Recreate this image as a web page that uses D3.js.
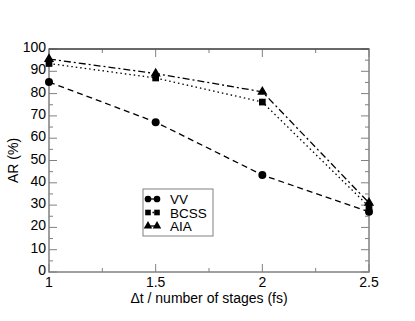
<!DOCTYPE html>
<html>
<head>
<meta charset="utf-8">
<script src="https://cdn.jsdelivr.net/npm/d3@7"></script>
<style>
  body { margin: 0; background: #fff; }
  text { font-family: "Liberation Sans", Arial, sans-serif; }
</style>
</head>
<body>
<div id="chart"></div>
<script>
// data
const stepSizes = [1, 1.5, 2, 2.5]
const vv = [85.2, 67.2, 43.5, 27]
const bcss = [93.5, 87, 76.2, 29.3]
const aia = [95.5, 89, 80.8, 31]
const xTicks = [1, 1.5, 2, 2.5]
const yTicks = [0, 10, 20, 30, 40, 50, 60, 70, 80, 90, 100]

const margin = {top: 49, right: 46, bottom: 49, left: 49}
const W = 415, H = 321
const width = W - margin.left - margin.right
const height = H - margin.top - margin.bottom

const svg = d3.select("#chart")
  .append("svg")
  .attr("width", W)
  .attr("height", H)
  .append("g")
  .attr("transform", "translate(" + margin.left + "," + margin.top + ")")

const x = d3.scaleLinear().domain([1, 2.5]).range([0, width])
const y = d3.scaleLinear().domain([0, 100]).range([height, 0])

const axisColor = "#808080"

// minor + major ticks, pointing inward, on all four sides
const minorX = d3.range(1.25, 2.5, 0.5)
const minorY = d3.range(5, 100, 10)
const ticks = svg.append("g").attr("stroke", axisColor).attr("stroke-width", 1)
xTicks.forEach(v => {
  ticks.append("line").attr("x1", x(v)).attr("x2", x(v)).attr("y1", height).attr("y2", height - 8)
  ticks.append("line").attr("x1", x(v)).attr("x2", x(v)).attr("y1", 0).attr("y2", 8)
})
minorX.forEach(v => {
  ticks.append("line").attr("x1", x(v)).attr("x2", x(v)).attr("y1", height).attr("y2", height - 4)
  ticks.append("line").attr("x1", x(v)).attr("x2", x(v)).attr("y1", 0).attr("y2", 4)
})
yTicks.forEach(v => {
  ticks.append("line").attr("x1", 0).attr("x2", 8).attr("y1", y(v)).attr("y2", y(v))
  ticks.append("line").attr("x1", width).attr("x2", width - 8).attr("y1", y(v)).attr("y2", y(v))
})
minorY.forEach(v => {
  ticks.append("line").attr("x1", 0).attr("x2", 4).attr("y1", y(v)).attr("y2", y(v))
  ticks.append("line").attr("x1", width).attr("x2", width - 4).attr("y1", y(v)).attr("y2", y(v))
})

// frame
svg.append("rect")
  .attr("width", width).attr("height", height)
  .attr("fill", "none").attr("stroke", axisColor).attr("stroke-width", 1.5)
svg.append("line").attr("x1", 0).attr("x2", width).attr("y1", 0).attr("y2", 0)
  .attr("stroke", "#333").attr("stroke-width", 1)

// tick labels
svg.selectAll(".xlab").data(xTicks).enter().append("text")
  .attr("x", d => x(d)).attr("y", height + 15)
  .attr("text-anchor", "middle").attr("font-size", 14).text(d => d)
svg.selectAll(".ylab").data(yTicks).enter().append("text")
  .attr("x", -3).attr("y", d => y(d) + 3)
  .attr("text-anchor", "end").attr("font-size", 14).text(d => d)

// axis titles
svg.append("text")
  .attr("x", width / 2).attr("y", height + 31)
  .attr("text-anchor", "middle").attr("font-size", 14)
  .text("\u0394t / number of stages (fs)")
svg.append("text")
  .attr("transform", "translate(" + (-31) + "," + (height / 2) + ") rotate(-90)")
  .attr("text-anchor", "middle").attr("font-size", 14)
  .text("AR (%)")

const series = [
  {name: "VV", values: vv, dash: "6,4", sym: d3.symbolCircle, size: 50},
  {name: "BCSS", values: bcss, dash: "1.5,3", sym: d3.symbolSquare, size: 45},
  {name: "AIA", values: aia, dash: "7,3,2,3", sym: d3.symbolTriangle, size: 45}
]

const line = d3.line().x((d, i) => x(stepSizes[i])).y(d => y(d))

series.forEach(s => {
  svg.append("path")
    .attr("d", line(s.values))
    .attr("fill", "none").attr("stroke", "#000")
    .attr("stroke-width", 1.3).attr("stroke-dasharray", s.dash)
  svg.selectAll(null).data(s.values).enter().append("path")
    .attr("d", d3.symbol().type(s.sym).size(s.size))
    .attr("transform", (d, i) => "translate(" + x(stepSizes[i]) + "," + y(d) + ")")
    .attr("fill", "#000")
})

// legend
const lg = svg.append("g").attr("transform", "translate(" + (143 - margin.left) + "," + (189 - margin.top) + ")")
lg.append("rect").attr("width", 70).attr("height", 47)
  .attr("fill", "#fff").attr("stroke", "#808080").attr("stroke-width", 1)
series.forEach((s, i) => {
  const yy = 10 + i * 13.5
  lg.append("line").attr("x1", 5).attr("x2", 14).attr("y1", yy).attr("y2", yy)
    .attr("stroke", "#000").attr("stroke-width", 1.3).attr("stroke-dasharray", s.dash)
  ;[5, 14].forEach(cx => {
    lg.append("path")
      .attr("d", d3.symbol().type(s.sym).size(s.size * 0.7))
      .attr("transform", "translate(" + cx + "," + yy + ")")
      .attr("fill", "#000")
  })
  lg.append("text").attr("x", 27).attr("y", yy + 5)
    .attr("font-size", 13.5).text(s.name)
})
</script>
</body>
</html>
